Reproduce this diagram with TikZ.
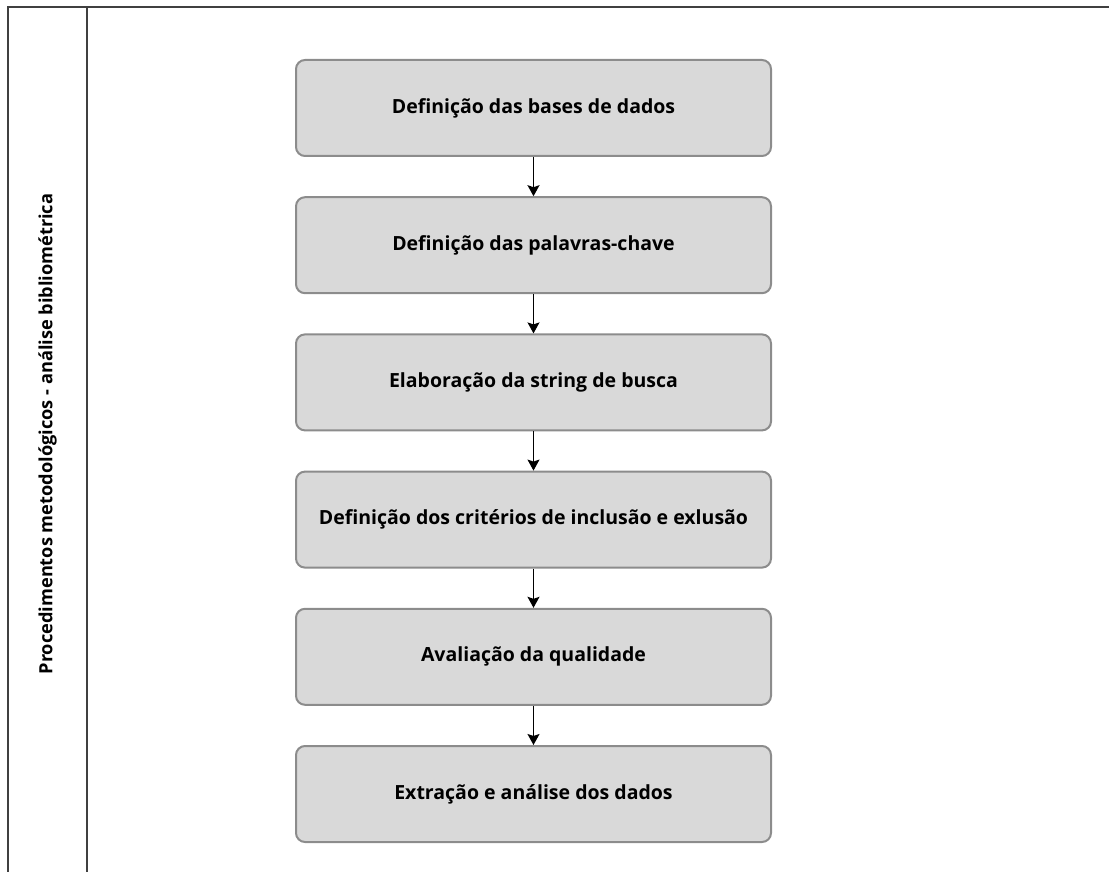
\documentclass[tikz,border=0pt]{standalone}
\usepackage{fontspec}
\setmainfont{Open Sans}
\usetikzlibrary{positioning, arrows.meta, calc}

\definecolor{boxfill}{HTML}{D9D9D9}
\definecolor{boxline}{HTML}{8C8C8C}
\definecolor{frameline}{HTML}{404040}

\begin{document}
\begin{tikzpicture}[x=1pt,y=-1pt,->,>={Stealth[length=11pt,width=12pt,inset=2pt]},line width=1.4pt,
  etapa/.style={draw=boxline, line width=2pt, fill=boxfill, rounded corners=9pt,
    minimum width=475pt, minimum height=96pt, align=center,
    font=\fontsize{19.5}{23}\selectfont\bfseries},
  node distance=39.2pt]
  \useasboundingbox (0,0) rectangle (1109,872);

  % moldura
  \coordinate (topleft) at (8,7);
  \coordinate (topright) at (1109,7);
  \coordinate (botleft) at (8,872);
  \coordinate (divtop) at (87,7);
  \coordinate (divbot) at (87,872);
  \draw[-, frameline, line width=1.3pt] (botleft) -- (topleft) -- (topright);
  \draw[-, frameline, line width=1.3pt] (divtop) -- (divbot);

  \node[rotate=90, font=\fontsize{18.2}{22}\selectfont\bfseries] (titulo) at (47.5,434)
    {Procedimentos metodológicos - análise bibliométrica};

  \node[etapa] (bases) at (533.5,108) {Definição das bases de dados};
  \node[etapa, below=of bases] (palavras) {Definição das palavras-chave};
  \node[etapa, below=of palavras] (string) {Elaboração da string de busca};
  \node[etapa, below=of string] (criterios) {Definição dos critérios de inclusão e exlusão};
  \node[etapa, below=of criterios] (qualidade) {Avaliação da qualidade};
  \node[etapa, below=of qualidade] (extracao) {Extração e análise dos dados};

  \path
    (bases) edge (palavras)
    (palavras) edge (string)
    (string) edge (criterios)
    (criterios) edge (qualidade)
    (qualidade) edge (extracao);
\end{tikzpicture}
\end{document}
